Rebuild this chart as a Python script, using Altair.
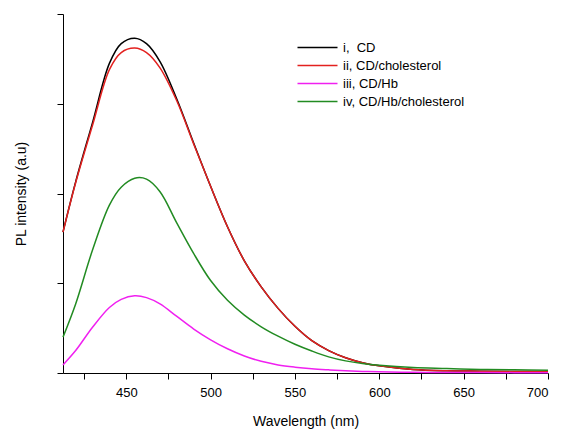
import altair as alt
import pandas as pd

wavelength = [412.5, 420, 430, 440, 447, 455, 462, 470, 480, 490, 500, 510, 520, 530,
              540, 550, 560, 570, 580, 590, 600, 620, 640, 660, 680, 700]
cd = [1.57, 2.13, 2.79, 3.45, 3.67, 3.73, 3.67, 3.47, 3.05, 2.56, 2.08, 1.63, 1.25, 0.96,
      0.72, 0.52, 0.36, 0.25, 0.17, 0.115, 0.08, 0.04, 0.025, 0.02, 0.016, 0.015]
cd_chol = [1.57, 2.12, 2.76, 3.38, 3.57, 3.62, 3.57, 3.40, 3.03, 2.55, 2.08, 1.63, 1.25, 0.96,
           0.72, 0.52, 0.36, 0.25, 0.17, 0.115, 0.08, 0.04, 0.025, 0.02, 0.016, 0.015]
cd_hb = [0.09, 0.25, 0.51, 0.73, 0.82, 0.86, 0.84, 0.77, 0.63, 0.49, 0.37, 0.27, 0.19, 0.13,
         0.09, 0.065, 0.047, 0.035, 0.025, 0.018, 0.013, 0.008, 0.006, 0.005, 0.004, 0.004]
cd_hb_chol = [0.40, 0.77, 1.37, 1.87, 2.07, 2.17, 2.16, 2.02, 1.67, 1.33, 1.03, 0.81, 0.645, 0.515,
              0.41, 0.32, 0.245, 0.18, 0.135, 0.105, 0.085, 0.06, 0.05, 0.04, 0.035, 0.03]

series_names = ["i,\u00a0\u00a0CD", "ii, CD/cholesterol", "iii, CD/Hb", "iv, CD/Hb/cholesterol"]
series_values = [cd, cd_chol, cd_hb, cd_hb_chol]
series_colors = ["#000000", "#e3211f", "#f020f0", "#228b22"]

rows = []
for name, vals in zip(series_names, series_values):
    for w, v in zip(wavelength, vals):
        rows.append({"wavelength": w, "intensity": v, "series": name})
df = pd.DataFrame(rows)

x_ticks = [425, 450, 475, 500, 525, 550, 575, 600, 625, 650, 675, 700]
y_ticks = [0, 1, 2, 3, 4]

chart = alt.Chart(df).mark_line(strokeWidth=1.5, interpolate="catmull-rom").encode(
    x=alt.X("wavelength:Q",
            scale=alt.Scale(domain=[412.5, 700], nice=False, zero=False),
            axis=alt.Axis(title="Wavelength (nm)", values=x_ticks,
                          labelExpr="datum.value % 50 == 0 ? datum.label : ''",
                          grid=False, tickSize=6, tickColor="black", domainColor="black",
                          labelFontSize=13, titleFontSize=14, labelFont="Liberation Sans",
                          titleFont="Liberation Sans", titleFontWeight="normal",
                          labelColor="black", titleColor="black", labelPadding=7,
                          titlePadding=15)),
    y=alt.Y("intensity:Q",
            scale=alt.Scale(domain=[0, 4], nice=False),
            axis=alt.Axis(title="PL intensity (a.u)", values=y_ticks, labels=False,
                          grid=False, tickSize=6, tickColor="black", domainColor="black",
                          titleFontSize=14, titleFont="Liberation Sans",
                          titleFontWeight="normal", titleColor="black", titlePadding=28)),
    color=alt.Color("series:N",
                    scale=alt.Scale(domain=series_names, range=series_colors),
                    legend=alt.Legend(title=None, orient="none", legendX=248, legendY=27,
                                      symbolType="M-4,0H4", symbolSize=100,
                                      symbolStrokeWidth=1.5, labelFontSize=13,
                                      labelFont="Liberation Sans", labelColor="black",
                                      rowPadding=4, padding=0, labelOffset=19)),
).properties(
    width=485, height=359,
    autosize=alt.AutoSizeParams(type="none"),
    padding={"left": 55, "top": 6, "right": 10, "bottom": 60},
).configure_view(stroke=None)

chart.save("out.html", embed_options={"renderer": "svg", "actions": False})
